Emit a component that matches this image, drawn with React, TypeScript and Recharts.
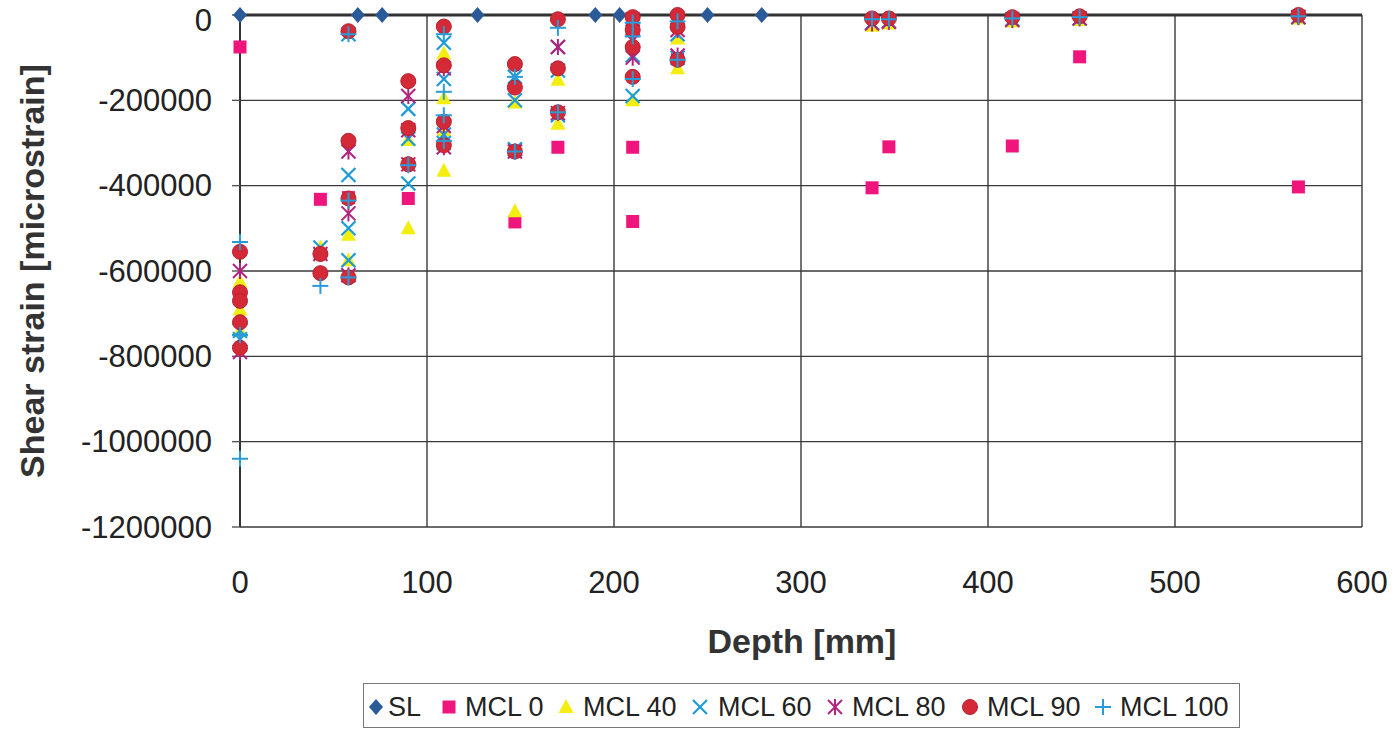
import React from "react";
import { ScatterChart, Scatter, XAxis, YAxis, CartesianGrid, ReferenceLine, Label } from "recharts";

type Pair = [number, number];

// depth [mm], shear strain [microstrain]
const SL: Pair[] = [[0, 0], [63, 0], [76, 0], [127, 0], [190, 0], [203, 0], [250, 0], [279, 0]];

const MCL0: Pair[] = [
  [0, -75000], [43, -432000], [58, -428000], [90, -430000], [147, -485000], [170, -310000],
  [210, -310000], [210, -484000], [234, -103000], [338, -405000], [347, -309000], [413, -307000],
  [449, -98000], [566, -403000],
];

const MCL40: Pair[] = [
  [0, -625000], [0, -690000], [0, -740000], [43, -545000], [58, -515000], [58, -575000],
  [90, -293000], [90, -500000], [109, -90000], [109, -195000], [109, -270000], [109, -365000],
  [147, -205000], [147, -460000], [170, -152000], [170, -255000], [210, -200000],
  [234, -55000], [234, -125000], [338, -25000], [347, -20000], [413, -15000], [449, -12000], [566, -8000],
];

const MCL60: Pair[] = [
  [0, -740000], [0, -760000], [43, -545000], [58, -45000], [58, -375000], [58, -500000], [58, -575000],
  [90, -220000], [90, -290000], [90, -395000], [109, -65000], [109, -150000], [109, -280000], [109, -300000],
  [147, -145000], [147, -200000], [147, -315000], [170, -75000], [170, -130000], [170, -235000],
  [210, -35000], [210, -95000], [210, -190000], [234, -45000], [234, -100000],
  [338, -18000], [347, -15000], [413, -10000], [449, -8000], [566, -5000],
];

const MCL80: Pair[] = [
  [0, -600000], [0, -790000], [43, -560000], [58, -320000], [58, -465000], [58, -610000],
  [90, -190000], [90, -270000], [90, -350000], [109, -125000], [109, -260000], [109, -310000],
  [147, -320000], [170, -75000], [170, -230000], [210, -10000], [210, -60000], [210, -100000],
  [234, -35000], [234, -95000], [338, -20000], [347, -16000], [413, -12000], [449, -8000], [566, -5000],
];

const MCL90: Pair[] = [
  [0, -555000], [0, -650000], [0, -670000], [0, -720000], [0, -780000], [43, -560000], [43, -605000],
  [58, -38000], [58, -295000], [58, -430000], [58, -615000], [90, -155000], [90, -265000], [90, -350000],
  [109, -27000], [109, -118000], [109, -250000], [109, -305000], [147, -115000], [147, -170000], [147, -320000],
  [170, -10000], [170, -125000], [170, -228000], [210, -5000], [210, -35000], [210, -75000], [210, -145000],
  [234, 0], [234, -28000], [234, -105000], [338, -8000], [347, -8000], [413, -5000], [449, -3000], [566, 0],
];

const MCL100: Pair[] = [
  [0, -532000], [0, -750000], [0, -1040000], [43, -635000], [58, -45000], [58, -435000], [58, -615000],
  [90, -352000], [109, -45000], [109, -180000], [109, -235000], [109, -295000], [147, -145000], [147, -320000],
  [170, -30000], [170, -228000], [210, -18000], [210, -50000], [210, -150000], [234, -15000], [234, -105000],
  [338, -10000], [347, -10000], [413, -8000], [449, -5000], [566, -3000],
];

const X_TICKS = [0, 100, 200, 300, 400, 500, 600];
const Y_TICKS = [-1200000, -1000000, -800000, -600000, -400000, -200000, 0];
const SERIES_NAMES = ["SL", "MCL 0", "MCL 40", "MCL 60", "MCL 80", "MCL 90", "MCL 100"];

const COLORS = {
  sl: "#2B5A98",
  m0: "#F0157D",
  m40: "#F4EE10",
  m60: "#1C9BD8",
  m80: "#B3237E",
  m90: "#D42A38",
  m100: "#2A9BD8",
};

const toPts = (arr: Pair[]) => arr.map(([depth, strain]) => ({ depth, strain }));

const FONT = "'Liberation Sans', Arial, sans-serif";

const DiamondMark = ({ cx, cy }: any) => (
  <path d={`M${cx},${cy - 8}L${cx + 7},${cy}L${cx},${cy + 8}L${cx - 7},${cy}Z`} fill={COLORS.sl} />
);
const SquareMark = ({ cx, cy }: any) => <rect x={cx - 6.5} y={cy - 6.5} width={13} height={13} fill={COLORS.m0} />;
const TriMark = ({ cx, cy }: any) => (
  <path d={`M${cx},${cy - 8}L${cx + 7.5},${cy + 6}L${cx - 7.5},${cy + 6}Z`} fill={COLORS.m40} />
);
const XMark = ({ cx, cy }: any) => (
  <g stroke={COLORS.m60} strokeWidth={2.2}>
    <line x1={cx - 7} y1={cy - 7} x2={cx + 7} y2={cy + 7} />
    <line x1={cx - 7} y1={cy + 7} x2={cx + 7} y2={cy - 7} />
  </g>
);
const StarMark = ({ cx, cy }: any) => (
  <g stroke={COLORS.m80} strokeWidth={2}>
    <line x1={cx - 7} y1={cy - 7} x2={cx + 7} y2={cy + 7} />
    <line x1={cx - 7} y1={cy + 7} x2={cx + 7} y2={cy - 7} />
    <line x1={cx} y1={cy - 8} x2={cx} y2={cy + 8} />
  </g>
);
const CircleMark = ({ cx, cy }: any) => <circle cx={cx} cy={cy} r={7.5} fill={COLORS.m90} stroke="#B81F2C" strokeWidth={1} />;
const PlusMark = ({ cx, cy }: any) => (
  <g stroke={COLORS.m100} strokeWidth={2}>
    <line x1={cx - 8} y1={cy} x2={cx + 8} y2={cy} />
    <line x1={cx} y1={cy - 8} x2={cx} y2={cy + 8} />
  </g>
);

const MARKS = [DiamondMark, SquareMark, TriMark, XMark, StarMark, CircleMark, PlusMark];
const DATA = [SL, MCL0, MCL40, MCL60, MCL80, MCL90, MCL100];

const LEGEND_POS = [
  { icon: 376, text: 388 },
  { icon: 449, text: 465 },
  { icon: 566, text: 583 },
  { icon: 700, text: 718 },
  { icon: 835, text: 852 },
  { icon: 970, text: 987 },
  { icon: 1103, text: 1120 },
];

const W = 1399;
const H = 731;

const YTick = ({ x, y, payload }: any) => (
  <text
    x={x}
    y={Math.max(y, 20)}
    textAnchor="end"
    dominantBaseline="central"
    fontSize={31}
    fill="#222"
    fontFamily={FONT}
  >
    {payload.value}
  </text>
);

export default function App() {
  return (
    <div style={{ position: "absolute", left: 0, top: 0, width: W, height: H, background: "#fff", overflow: "hidden" }}>
      <ScatterChart width={W} height={H} margin={{ top: 15, right: 37, bottom: 0, left: 0 }}>
        <CartesianGrid stroke="#3a3a3a" strokeWidth={1.4} />
        <XAxis
          type="number"
          dataKey="depth"
          domain={[0, 600]}
          ticks={X_TICKS}
          interval={0}
          axisLine={false}
          tickLine={false}
          height={204}
          tickMargin={38}
          tick={{ fontSize: 31, fill: "#222", fontFamily: FONT }}
        >
          <Label
            content={() => (
              <text x={802} y={641} textAnchor="middle" dominantBaseline="central" fontSize={34} fontWeight="bold" fill="#333" fontFamily={FONT}>
                Depth [mm]
              </text>
            )}
          />
        </XAxis>
        <YAxis
          type="number"
          dataKey="strain"
          domain={[-1200000, 0]}
          ticks={Y_TICKS}
          interval={0}
          width={240}
          tickSize={8}
          tickMargin={20}
          axisLine={{ stroke: "#333", strokeWidth: 2 }}
          tickLine={{ stroke: "#555", strokeWidth: 1.4 }}
          tick={<YTick />}
        >
          <Label
            content={() => (
              <text x={32} y={271} transform="rotate(-90, 32, 271)" textAnchor="middle" dominantBaseline="central" fontSize={34} fontWeight="bold" fill="#333" fontFamily={FONT}>
                Shear strain [microstrain]
              </text>
            )}
          />
        </YAxis>
        <ReferenceLine y={0} stroke="#333" strokeWidth={3} />
        {DATA.map((arr, i) => {
          const Mark = MARKS[i];
          return (
            <Scatter
              key={SERIES_NAMES[i]}
              name={SERIES_NAMES[i]}
              data={toPts(arr)}
              isAnimationActive={false}
              shape={(p: any) => <Mark cx={p.cx} cy={p.cy} />}
            />
          );
        })}
      </ScatterChart>
      <div
        style={{
          position: "absolute",
          left: 363,
          top: 683,
          width: 877,
          height: 45,
          border: "1.5px solid #777",
          boxSizing: "border-box",
        }}
      />
      <svg style={{ position: "absolute", left: 0, top: 683 }} width={W} height={48}>
        {SERIES_NAMES.map((name, i) => {
          const Mark = MARKS[i];
          const pos = LEGEND_POS[i];
          return (
            <g key={name}>
              <Mark cx={pos.icon} cy={24} />
              <text x={pos.text} y={24} dominantBaseline="central" fontSize={27} fill="#222" fontFamily={FONT}>
                {name}
              </text>
            </g>
          );
        })}
      </svg>
    </div>
  );
}
